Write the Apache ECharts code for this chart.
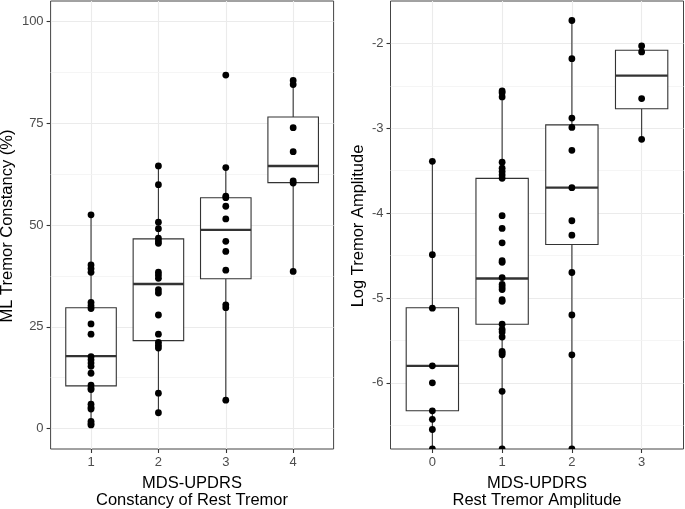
<!DOCTYPE html>
<html><head><meta charset="utf-8">
<script src="https://cdn.jsdelivr.net/npm/echarts@6/dist/echarts.min.js"></script>
<style>html,body{margin:0;padding:0;background:#fff}#c{width:685px;height:509px}</style>
</head><body><div id="c"></div>
<script>
// ---- Left panel: ML Tremor Constancy (%) by MDS-UPDRS constancy score ----
const constancyLevels = [1, 2, 3, 4];
const constancyCat1 = [52.5, 40.2, 39.3, 38.4, 31.0, 30.2, 29.5, 25.7, 23.2, 17.7, 16.9, 16.1, 15.3, 13.6, 10.7, 10.0, 9.6, 6.0, 5.2, 4.8, 1.8, 1.2, 0.9];
const constancyCat2 = [64.5, 59.9, 50.7, 49.1, 46.8, 46.1, 45.5, 38.4, 37.7, 36.9, 34.1, 33.3, 27.9, 23.2, 21.2, 20.5, 19.8, 8.7, 3.9];
const constancyCat3 = [86.8, 64.1, 57.1, 56.7, 54.6, 51.5, 46.0, 43.5, 38.9, 30.4, 29.7, 7.0];
const constancyCat4 = [85.5, 84.5, 73.9, 68.0, 60.8, 60.3, 38.6];
// box stats: [lower whisker, Q1, median, Q3, upper whisker]
const constancyBox1 = [0.9, 10.5, 17.8, 29.7, 52.5];
const constancyBox2 = [3.9, 21.6, 35.5, 46.6, 64.5];
const constancyBox3 = [7.0, 36.8, 48.8, 56.7, 64.1];
const constancyBox4 = [38.6, 60.4, 64.5, 76.5, 85.5];
const constancyTicks = [0, 25, 50, 75, 100];
const constancyMinor = [12.5, 37.5, 62.5, 87.5];

// ---- Right panel: Log Tremor Amplitude by MDS-UPDRS amplitude score ----
const amplitudeLevels = [0, 1, 2, 3];
const amplitudeCat0 = [-3.39, -4.49, -5.12, -5.80, -6.00, -6.33, -6.43, -6.55, -6.78];
const amplitudeCat1 = [-2.56, -2.58, -2.63, -3.40, -3.47, -3.51, -3.55, -3.59, -4.03, -4.18, -4.35, -4.56, -4.58, -4.76, -4.84, -4.87, -4.90, -5.02, -5.04, -5.31, -5.37, -5.40, -5.46, -5.63, -5.65, -5.67, -6.10, -6.78];
const amplitudeCat2 = [-1.73, -2.18, -2.88, -2.99, -3.26, -3.70, -4.09, -4.26, -4.70, -5.20, -5.67, -6.78];
const amplitudeCat3 = [-2.03, -2.10, -2.65, -3.13];
const amplitudeBox0 = [-7.0, -6.33, -5.80, -5.115, -3.39];
const amplitudeBox1 = [-7.0, -5.31, -4.77, -3.59, -2.56];
const amplitudeBox2 = [-7.0, -4.37, -3.70, -2.96, -1.73];
const amplitudeBox3 = [-3.13, -2.77, -2.38, -2.08, -2.03];
const amplitudeTicks = [-6, -5, -4, -3, -2];
const amplitudeMinor = [-6.5, -5.5, -4.5, -3.5, -2.5];

const FONT = '"Liberation Sans", Arial, Helvetica, sans-serif';
const constancyPts = [constancyCat1, constancyCat2, constancyCat3, constancyCat4];
const constancyBoxes = [constancyBox1, constancyBox2, constancyBox3, constancyBox4];
const amplitudePts = [amplitudeCat0, amplitudeCat1, amplitudeCat2, amplitudeCat3];
const amplitudeBoxes = [amplitudeBox0, amplitudeBox1, amplitudeBox2, amplitudeBox3];

function boxRender(params, api) {
  const x = api.value(0);
  const pLow = api.coord([x, api.value(1)]);
  const pQ1 = api.coord([x, api.value(2)]);
  const pMed = api.coord([x, api.value(3)]);
  const pQ3 = api.coord([x, api.value(4)]);
  const pHigh = api.coord([x, api.value(5)]);
  const half = api.size([0.75, 0])[0] / 2;
  const cx = pQ1[0];
  const st = {stroke: '#333', lineWidth: 1.1, fill: null};
  return {type: 'group', children: [
    {type: 'line', shape: {x1: cx, y1: pLow[1], x2: cx, y2: pQ1[1]}, style: st},
    {type: 'line', shape: {x1: cx, y1: pQ3[1], x2: cx, y2: pHigh[1]}, style: st},
    {type: 'rect', shape: {x: cx - half, y: pQ3[1], width: half * 2, height: pQ1[1] - pQ3[1]}, style: {fill: '#fff', stroke: '#333', lineWidth: 1.1}},
    {type: 'line', shape: {x1: cx - half, y1: pMed[1], x2: cx + half, y2: pMed[1]}, style: {stroke: '#333', lineWidth: 2.4}}
  ]};
}
function pointRender(params, api) {
  const p = api.coord([api.value(0), api.value(1)]);
  return {type: 'circle', shape: {cx: p[0], cy: p[1], r: 3.4}, style: {fill: '#000'}};
}
function boxData(levels, boxes) { return levels.map((lv, i) => [lv].concat(boxes[i])); }
function ptData(levels, pts) {
  const out = [];
  levels.forEach((lv, i) => pts[i].forEach(v => out.push([lv, v])));
  return out;
}
function xAxisCfg(idx, levels, min, max) {
  return {gridIndex: idx, type: 'value', min: min, max: max, position: 'bottom',
    axisLine: {show: false, onZero: false},
    axisTick: {show: true, length: 4, customValues: levels, lineStyle: {color: '#333', width: 1.1}},
    axisLabel: {customValues: levels, color: '#4D4D4D', fontSize: 13, fontFamily: FONT, margin: 7},
    splitLine: {show: true, lineStyle: {color: '#EBEBEB', width: 1.1}}};
}
function yAxisCfg(idx, ticks, min, max) {
  return {gridIndex: idx, type: 'value', min: min, max: max, position: 'left',
    axisLine: {show: false, onZero: false},
    axisTick: {show: true, length: 4, customValues: ticks, lineStyle: {color: '#333', width: 1.1}},
    axisLabel: {customValues: ticks, color: '#4D4D4D', fontSize: 13, fontFamily: FONT, margin: 7},
    splitLine: {show: true, lineStyle: {color: '#EBEBEB', width: 1.1}}};
}
function minorSeries(idx, values) {
  return {type: 'line', xAxisIndex: idx, yAxisIndex: idx, data: [], z: 1, silent: true,
    markLine: {silent: true, symbol: ['none', 'none'], animation: false, z: 1,
      label: {show: false}, lineStyle: {color: '#F3F3F3', width: 0.8, type: 'solid'},
      data: values.map(v => ({yAxis: v}))}};
}

const chart = echarts.init(document.getElementById('c'), null, {renderer: 'canvas'});
chart.setOption({
  animation: false,
  backgroundColor: '#fff',
  grid: [
    {left: 50.6, top: 1, width: 283, height: 448, show: true, borderColor: '#444', borderWidth: 1, backgroundColor: '#fff'},
    {left: 390.5, top: 1, width: 293, height: 448, show: true, borderColor: '#444', borderWidth: 1, backgroundColor: '#fff'}
  ],
  xAxis: [xAxisCfg(0, constancyLevels, 0.4, 4.6), xAxisCfg(1, amplitudeLevels, -0.6, 3.6)],
  yAxis: [yAxisCfg(0, constancyTicks, -5, 105), yAxisCfg(1, amplitudeTicks, -6.78, -1.5)],
  series: [
    minorSeries(0, constancyMinor),
    minorSeries(1, amplitudeMinor),
    {type: 'custom', xAxisIndex: 0, yAxisIndex: 0, z: 3, clip: true, renderItem: boxRender,
      encode: {x: 0, y: [1, 2, 3, 4, 5]}, data: boxData(constancyLevels, constancyBoxes)},
    {type: 'custom', xAxisIndex: 1, yAxisIndex: 1, z: 3, clip: true, renderItem: boxRender,
      encode: {x: 0, y: [1, 2, 3, 4, 5]}, data: boxData(amplitudeLevels, amplitudeBoxes)},
    {type: 'custom', xAxisIndex: 0, yAxisIndex: 0, z: 4, clip: true, renderItem: pointRender,
      encode: {x: 0, y: 1}, data: ptData(constancyLevels, constancyPts)},
    {type: 'custom', xAxisIndex: 1, yAxisIndex: 1, z: 4, clip: true, renderItem: pointRender,
      encode: {x: 0, y: 1}, data: ptData(amplitudeLevels, amplitudePts)}
  ],
  graphic: [
    {type: 'text', x: 192, y: 483.5, style: {text: 'MDS-UPDRS', fontSize: 16.5, fontFamily: FONT, fill: '#000', align: 'center', verticalAlign: 'middle'}},
    {type: 'text', x: 192, y: 500, style: {text: 'Constancy of Rest Tremor', fontSize: 16.5, fontFamily: FONT, fill: '#000', align: 'center', verticalAlign: 'middle'}},
    {type: 'text', x: 537, y: 483.5, style: {text: 'MDS-UPDRS', fontSize: 16.5, fontFamily: FONT, fill: '#000', align: 'center', verticalAlign: 'middle'}},
    {type: 'text', x: 537, y: 500, style: {text: 'Rest Tremor Amplitude', fontSize: 16.5, fontFamily: FONT, fill: '#000', align: 'center', verticalAlign: 'middle'}},
    {type: 'text', x: 7, y: 226, rotation: Math.PI / 2, style: {text: 'ML Tremor Constancy (%)', fontSize: 16.5, fontFamily: FONT, fill: '#000', align: 'center', verticalAlign: 'middle'}},
    {type: 'text', x: 358.5, y: 226, rotation: Math.PI / 2, style: {text: 'Log Tremor Amplitude', fontSize: 16.5, fontFamily: FONT, fill: '#000', align: 'center', verticalAlign: 'middle'}}
  ]
});
</script></body></html>
